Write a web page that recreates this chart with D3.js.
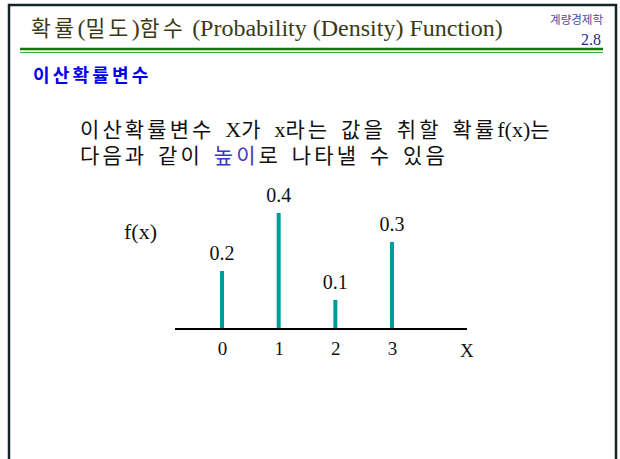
<!DOCTYPE html>
<html>
<head>
<meta charset="utf-8">
<script src="https://cdn.jsdelivr.net/npm/d3@7"></script>
<style>
  html, body { margin: 0; padding: 0; background: #fff; }
  svg { display: block; }
</style>
</head>
<body>
<svg id="slide" width="620" height="459"></svg>
<script>
// Discrete probability distribution f(x)
const outcomes = [0, 1, 2, 3];
const probabilities = [0.2, 0.4, 0.1, 0.3];
const probLabels = ["0.2", "0.4", "0.1", "0.3"];
const tickLabels = ["0", "1", "2", "3"];

const serif = "'Liberation Serif', 'Times New Roman', serif";
const hangul = "'Noto Sans CJK KR', 'Noto Sans', sans-serif";

const svg = d3.select("#slide");

// Mixed Hangul / Latin line: each segment is [text, kind, colour?]
function richLine(parent, x, y, segments, opts) {
  const t = parent.append("text").attr("x", x).attr("y", y).attr("fill", opts.fill);
  segments.forEach(([txt, kind, col]) => {
    const s = t.append("tspan").text(txt);
    if (kind === "ko") {
      s.attr("font-family", hangul)
        .attr("font-size", opts.koSize)
        .attr("letter-spacing", opts.koSpacing)
        .attr("word-spacing", opts.wordSpacing || 0);
    } else {
      s.attr("font-family", serif).attr("font-size", opts.laSize);
    }
    if (col) s.attr("fill", col);
  });
  return t;
}

// slide frame
svg.append("rect")
  .attr("x", 9).attr("y", 5)
  .attr("width", 607).attr("height", 470)
  .attr("fill", "none")
  .attr("stroke", "#152424")
  .attr("stroke-width", 2.5);

// header
richLine(svg, 31, 36, [
  ["확률", "ko"], ["(", "la"], ["밀도", "ko"], [")", "la"], ["함수", "ko"],
  [" (Probability (Density) Function)", "la"]
], { fill: "#3a3a14", koSize: 21.5, koSpacing: 3.4, laSize: 24 });

svg.append("text")
  .attr("x", 603).attr("y", 24)
  .attr("text-anchor", "end")
  .attr("font-family", hangul)
  .attr("font-size", 11.5)
  .attr("fill", "#4a4aa8")
  .text("계량경제학");

svg.append("text")
  .attr("x", 601).attr("y", 45)
  .attr("text-anchor", "end")
  .attr("font-family", serif)
  .attr("font-size", 16)
  .attr("fill", "#2a2a8a")
  .text("2.8");

// double green rule
svg.append("line")
  .attr("x1", 20).attr("x2", 603).attr("y1", 49).attr("y2", 49)
  .attr("stroke", "#0a7a0a").attr("stroke-width", 2.5);
svg.append("line")
  .attr("x1", 20).attr("x2", 603).attr("y1", 52.5).attr("y2", 52.5)
  .attr("stroke", "#3aaa3a").attr("stroke-width", 1);

// section heading
svg.append("text")
  .attr("x", 33).attr("y", 82)
  .attr("font-family", hangul)
  .attr("font-size", 18)
  .attr("font-weight", "bold")
  .attr("letter-spacing", 3.2)
  .attr("fill", "#0000ee")
  .text("이산확률변수");

// body text
const bodyOpts = { fill: "#111", koSize: 21, koSpacing: 3.1, wordSpacing: 3, laSize: 22 };
richLine(svg, 80, 137, [
  ["이산확률변수 ", "ko"], ["X", "la"], ["가 ", "ko"], ["x", "la"],
  ["라는 값을 취할 확률", "ko"], ["f(x)", "la"], ["는", "ko"]
], bodyOpts);
richLine(svg, 80, 163, [
  ["다음과 같이 ", "ko"], ["높이", "ko", "#3b3bbb"], ["로 나타낼 수 있음", "ko"]
], bodyOpts);

// chart
const baseY = 329;
const x = d3.scaleLinear().domain([0, 3]).range([222, 392]);
const y = d3.scaleLinear().domain([0, 0.4]).range([baseY, baseY - 116]);

const chart = svg.append("g");

chart.selectAll("line.bar")
  .data(outcomes)
  .join("line")
  .attr("class", "bar")
  .attr("x1", d => x(d)).attr("x2", d => x(d))
  .attr("y1", y(0))
  .attr("y2", (d, i) => y(probabilities[i]))
  .attr("stroke", "#009b9b")
  .attr("stroke-width", 4);

chart.selectAll("text.val")
  .data(outcomes)
  .join("text")
  .attr("class", "val")
  .attr("x", d => x(d))
  .attr("y", (d, i) => y(probabilities[i]) - 11)
  .attr("text-anchor", "middle")
  .attr("font-family", serif)
  .attr("font-size", 20)
  .attr("fill", "#111")
  .text((d, i) => probLabels[i]);

// horizontal axis
chart.append("line")
  .attr("x1", 175).attr("x2", 467)
  .attr("y1", baseY).attr("y2", baseY)
  .attr("stroke", "#000").attr("stroke-width", 2);

const xAxis = d3.axisBottom(x)
  .tickValues(outcomes)
  .tickFormat((d, i) => tickLabels[i])
  .tickSize(0)
  .tickPadding(13);
const axisG = chart.append("g")
  .attr("transform", `translate(0,${baseY})`)
  .call(xAxis);
axisG.select(".domain").remove();
axisG.selectAll("text")
  .attr("font-family", serif)
  .attr("font-size", 19)
  .attr("fill", "#111");

chart.append("text")
  .attr("x", 460).attr("y", 357)
  .attr("font-family", serif)
  .attr("font-size", 19)
  .attr("fill", "#111")
  .text("X");

chart.append("text")
  .attr("x", 124).attr("y", 239)
  .attr("font-family", serif)
  .attr("font-size", 22)
  .attr("fill", "#111")
  .text("f(x)");
</script>
</body>
</html>
